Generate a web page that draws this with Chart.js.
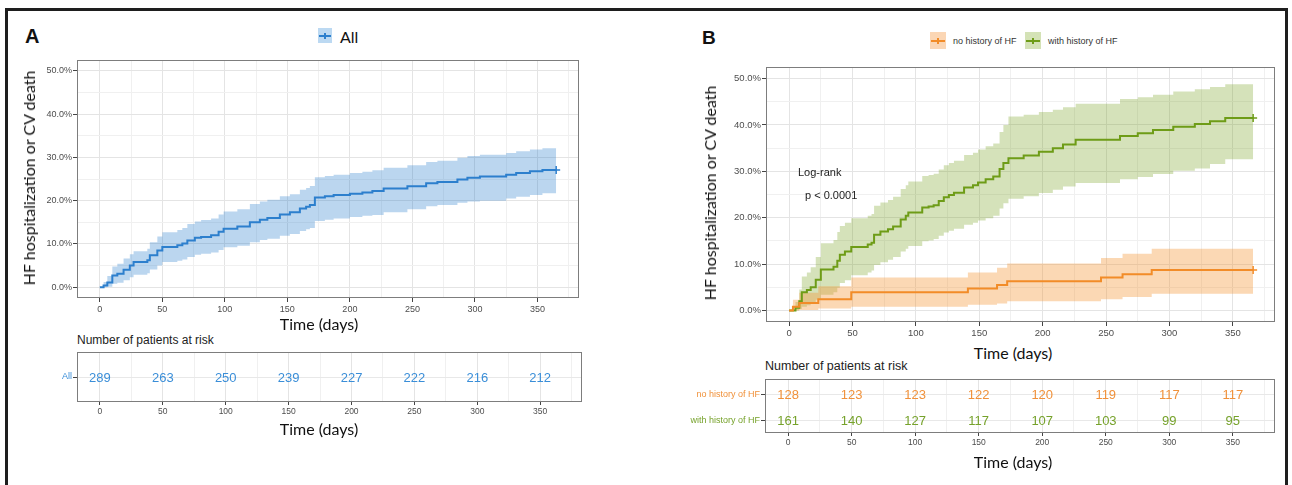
<!DOCTYPE html>
<html>
<head>
<meta charset="utf-8">
<script src="https://cdn.jsdelivr.net/npm/chart.js@4.4.1/dist/chart.umd.min.js"></script>
<style>
body{margin:0;background:#fff;width:1292px;height:485px;overflow:hidden;position:relative;font-family:"Liberation Sans",Arial,sans-serif;color:#222}
.frame{position:absolute;left:5px;top:8px;width:1277px;height:520px;border:3px solid #1e1e1e}
.box{position:absolute}
.t{position:absolute;white-space:nowrap;line-height:1;transform:translate(-50%,-50%);z-index:2}
.l{position:absolute;white-space:nowrap;line-height:1;transform:translateY(-50%);z-index:2}
.ttl{font-family:Lato,"Open Sans",sans-serif;font-size:16px;color:#111}
.yt{transform:translate(-50%,-50%) rotate(-90deg)}
.letter{font-weight:bold;font-size:20px;color:#111}
.key{position:absolute}
.key i{position:absolute;left:1px;right:1px;top:50%;height:2px;margin-top:-1px}
.key b{position:absolute;left:50%;width:1.5px;margin-left:-.75px;top:50%;height:6px;margin-top:-3px}
</style>
</head>
<body>
<div class="frame"></div>

<div class="box" style="left:27px;top:60px;width:552px;height:258px"><canvas id="plotA"></canvas></div>
<div class="box" style="left:47px;top:352px;width:535px;height:70px"><canvas id="riskA"></canvas></div>
<div class="box" style="left:716px;top:67px;width:559px;height:275px"><canvas id="plotB"></canvas></div>
<div class="box" style="left:655px;top:379px;width:620px;height:74px"><canvas id="riskB"></canvas></div>

<div class="l letter" style="left:25px;top:36px">A</div>
<div class="l letter" style="left:702px;top:37px;font-size:19px">B</div>

<div class="key" style="left:318px;top:28px;width:14px;height:15px;background:#bcd9f2"><i style="background:#2c7fcd"></i><b style="background:#2c7fcd"></b></div>
<div class="l ttl" style="left:340px;top:37px">All</div>

<div class="key" style="left:930px;top:32px;width:16px;height:17px;background:#fbd6b4"><i style="background:#f28c28"></i><b style="background:#f28c28"></b></div>
<div class="l" style="left:953px;top:41px;font-size:9px;color:#333">no history of HF</div>
<div class="key" style="left:1025px;top:32px;width:16px;height:17px;background:#d4e2b6"><i style="background:#6e9c17"></i><b style="background:#6e9c17"></b></div>
<div class="l" style="left:1048px;top:41px;font-size:9px;color:#333">with history of HF</div>

<div class="t ttl yt" style="left:29px;top:178px">HF hospitalization or CV death</div>
<div class="t ttl yt" style="left:710px;top:193px">HF hospitalization or CV death</div>
<div class="t ttl" style="left:319px;top:324px">Time (days)</div>
<div class="t ttl" style="left:319px;top:429px">Time (days)</div>
<div class="t ttl" style="left:1013px;top:353px">Time (days)</div>
<div class="t ttl" style="left:1013px;top:462px">Time (days)</div>

<div class="l" style="left:77px;top:340px;font-size:12px">Number of patients at risk</div>
<div class="l" style="left:765px;top:366px;font-size:12.5px">Number of patients at risk</div>

<div class="l" style="left:798px;top:172px;font-size:11px">Log-rank</div>
<div class="l" style="left:805px;top:195px;font-size:11px">p &lt; 0.0001</div>

<script>
// axes
const xMajor=[0,50,100,150,200,250,300,350];
const xMinor=[25,75,125,175,225,275,325,375];
const yMajor=[0,10,20,30,40,50];
const yMinor=[5,15,25,35,45];

// panel A: all patients (cumulative incidence %, step times in days)
const timesA=[0,3,6,10,14,19,24,27,38,40,46,50,62,66,70,76,81,89,95,99,110,120,128,134,144,152,160,165,168,172,180,187,200,210,218,227,246,261,270,286,294,304,325,333,344,354,365];
const estA=[0,0.4,1.1,2.7,3.1,4.0,5.0,5.8,6.2,7.4,8.5,9.3,9.7,10.1,10.8,11.4,11.6,12.0,12.8,13.5,14.0,15.0,15.6,16.0,16.8,17.3,18.2,18.6,19.0,20.7,21.0,21.3,21.6,21.9,22.2,22.8,23.3,24.0,24.3,24.9,25.3,25.6,26.0,26.4,26.8,27.1,27.1];
const lowA=[0,0,0.1,0.8,1.0,1.6,2.3,2.9,3.2,4.1,5.0,5.8,6.1,6.4,7.0,7.5,7.7,8.0,8.6,9.2,9.6,10.4,10.9,11.2,11.9,12.3,13.0,13.4,13.7,15.3,15.6,15.9,16.2,16.5,16.7,17.3,18.0,18.7,19.0,19.5,19.8,20.0,20.5,20.9,21.3,21.7,21.7];
const upA=[0,1.2,2.6,4.8,5.4,6.6,7.6,8.3,8.9,10.4,11.7,12.7,13.2,13.7,14.6,15.2,15.5,15.9,16.8,17.5,18.0,19.2,19.8,20.2,21.0,21.5,22.5,22.9,23.4,25.4,25.7,26.0,26.4,26.7,27.0,27.6,28.2,28.9,29.2,29.9,30.3,30.6,31.0,31.4,31.8,32.1,32.1];

// panel B: no history of HF
const timesNo=[0,3,8,23,49,141,164,172,246,263,286,366];
const estNo=[0,0.8,1.6,2.4,3.9,4.7,5.5,6.3,7.1,7.8,8.7,8.7];
const lowNo=[0,0,0.1,0.4,0.8,1.2,1.5,2.0,2.4,2.9,3.6,3.6];
const upNo=[0,2.3,3.8,5.2,7.1,8.2,9.2,10.1,11.3,12.2,13.3,13.3];

// panel B: with history of HF
const timesHF=[0,5,8,10,14,17,21,25,35,38,40,44,49,62,65,67,72,78,82,88,92,94,105,110,114,118,122,126,130,138,145,149,155,161,166,169,173,185,197,208,216,226,261,275,287,303,320,332,344,366];
const estHF=[0,0.6,2.0,3.9,4.4,5.0,6.6,8.8,9.4,10.7,12.0,12.7,13.7,14.2,14.6,16.3,17.0,17.5,18.1,19.6,20.4,21.1,22.2,22.4,22.7,23.6,24.4,24.9,25.4,26.5,27.0,27.6,28.3,28.9,30.5,31.8,32.8,33.4,34.2,35.0,35.8,36.8,37.6,38.2,38.9,39.6,40.2,40.8,41.5,41.5];
const lowHF=[0,0,0.3,0.8,1.1,1.5,2.3,3.4,3.9,4.9,5.9,6.5,7.6,8.2,8.6,9.8,10.4,10.9,11.5,12.7,13.3,13.9,14.9,15.1,15.4,16.1,16.8,17.2,17.6,18.5,18.9,19.4,19.9,20.4,22.0,23.1,24.1,24.6,25.3,26.0,26.7,27.5,28.3,28.8,29.4,30.1,30.6,31.6,32.6,32.6];
const upHF=[0,1.8,4.5,7.3,8.2,9.3,11.5,14.5,15.2,16.9,18.2,18.9,19.9,20.4,20.8,22.6,23.3,23.8,24.5,26.2,27.0,27.8,29.0,29.2,29.5,30.4,31.3,31.8,32.3,33.5,34.0,34.7,35.4,36.0,38.5,40.0,41.8,42.2,42.8,43.3,43.8,44.6,45.6,46.0,46.5,47.2,47.7,48.2,48.8,48.8];

// numbers at risk
const riskTimes=[0,50,100,150,200,250,300,350];
const riskAll=[289,263,250,239,227,222,216,212];
const riskNo=[128,123,123,122,120,119,117,117];
const riskHF=[161,140,127,117,107,103,99,95];
const rowsA=["All"];
const rowsB=["no history of HF","with history of HF"];

const FONT='"Liberation Sans", Arial, sans-serif';
Chart.defaults.font.family=FONT;
Chart.defaults.color='#4d4d4d';

const pts=(ts,vs)=>ts.map((t,i)=>({x:t,y:vs[i]}));
const isMajorX=v=>xMajor.includes(v);

// full grey box round the panel, like ggplot
const panelBorder={id:'panelBorder',afterDraw(c){
  const {left,top,right,bottom}=c.chartArea, x=c.ctx;
  x.save();x.strokeStyle='#7d7d7d';x.lineWidth=1;
  x.strokeRect(left+.5,top+.5,right-left-1,bottom-top-1);x.restore();
}};

// numbers at risk written at the point positions
const riskText={id:'riskText',afterDatasetsDraw(c){
  const x=c.ctx;
  c.data.datasets.forEach((d,i)=>{
    if(!d.counts) return;
    x.save();x.fillStyle=d.textColor;x.font='13px '+FONT;
    x.textAlign='center';x.textBaseline='middle';
    c.getDatasetMeta(i).data.forEach((p,j)=>x.fillText(String(d.counts[j]),p.x,p.y+1));
    x.restore();
  });
}};

function xScale(size,tickLen){
  return {
    type:'linear',min:-18.25,max:383.25,
    afterBuildTicks:s=>{s.ticks=[...xMajor,...xMinor].sort((a,b)=>a-b).map(v=>({value:v}));},
    afterFit:s=>{s.height=20;s.paddingLeft=0;s.paddingRight=0;},
    border:{display:false},
    grid:{color:c=>isMajorX(c.tick.value)?'#e4e4e4':'#f0f0f0',lineWidth:1,tickLength:tickLen,
      tickColor:c=>isMajorX(c.tick.value)?'#444':'rgba(0,0,0,0)'},
    ticks:{autoSkip:false,maxRotation:0,padding:2,font:{size:size},color:'#4d4d4d',
      callback:v=>isMajorX(v)?String(v):''}
  };
}

function survChart(id,curves,tickSize,yw){
  const ds=[];
  curves.forEach(cv=>{
    ds.push({data:pts(cv.t,cv.hi),stepped:true,borderWidth:0,pointRadius:0,fill:'+1',backgroundColor:cv.band,order:3});
    ds.push({data:pts(cv.t,cv.lo),stepped:true,borderWidth:0,pointRadius:0,fill:false,order:3});
  });
  curves.forEach(cv=>{
    ds.push({data:pts(cv.t,cv.est),stepped:true,borderColor:cv.color,borderWidth:2,pointRadius:0,fill:false,order:1});
    const n=cv.t.length-1;
    ds.push({data:[{x:cv.t[n],y:cv.est[n]}],showLine:false,pointStyle:'cross',pointRadius:4,pointBorderWidth:1.5,
      pointBorderColor:cv.color,borderColor:cv.color,order:0});
  });
  return new Chart(document.getElementById(id),{
    type:'line',
    data:{datasets:ds},
    options:{
      responsive:true,maintainAspectRatio:false,animation:false,events:[],
      layout:{padding:0,autoPadding:false},
      plugins:{legend:{display:false},tooltip:{enabled:false}},
      scales:{
        x:xScale(tickSize,4),
        y:{type:'linear',min:-2.5,max:52.5,
          afterBuildTicks:s=>{s.ticks=[...yMajor,...yMinor].sort((a,b)=>a-b).map(v=>({value:v}));},
          afterFit:s=>{s.width=yw;s.paddingTop=0;s.paddingBottom=0;},
          border:{display:false},
          grid:{color:c=>yMajor.includes(c.tick.value)?'#e4e4e4':'#f0f0f0',tickLength:4,
            tickColor:c=>yMajor.includes(c.tick.value)?'#444':'rgba(0,0,0,0)'},
          ticks:{padding:1,font:{size:tickSize},color:'#4d4d4d',
            callback:v=>yMajor.includes(v)?v.toFixed(1)+'%':''}}
      }
    },
    plugins:[panelBorder]
  });
}

function riskChart(id,rows,series,colors,yMin,yMax,yw){
  const ds=series.map((s,i)=>({
    data:riskTimes.map(t=>({x:t,y:i+1})),counts:s,textColor:colors[i],
    showLine:false,pointRadius:0
  }));
  return new Chart(document.getElementById(id),{
    type:'scatter',
    data:{datasets:ds},
    options:{
      responsive:true,maintainAspectRatio:false,animation:false,events:[],
      layout:{padding:0,autoPadding:false},
      plugins:{legend:{display:false},tooltip:{enabled:false}},
      scales:{
        x:xScale(8.5,3),
        y:{type:'linear',min:yMin,max:yMax,reverse:true,
          afterBuildTicks:s=>{s.ticks=rows.map((r,i)=>({value:i+1}));},
          afterFit:s=>{s.width=yw;s.paddingTop=0;s.paddingBottom=0;},
          border:{display:false},
          grid:{color:'#e8e8e8',tickLength:4,tickColor:'#444'},
          ticks:{padding:1,font:{size:9},color:c=>colors[c.index],
            callback:v=>rows[v-1]}}
      }
    },
    plugins:[panelBorder,riskText]
  });
}

survChart('plotA',[{t:timesA,est:estA,lo:lowA,hi:upA,color:'#2c7fcd',band:'rgba(44,127,205,0.32)'}],9,50);
survChart('plotB',[
  {t:timesNo,est:estNo,lo:lowNo,hi:upNo,color:'#f28c28',band:'rgba(245,146,47,0.36)'},
  {t:timesHF,est:estHF,lo:lowHF,hi:upHF,color:'#6e9c17',band:'rgba(115,160,28,0.3)'}
],9.5,50);
riskChart('riskA',rowsA,[riskAll],['#3a8ed8'],0,2,30);
riskChart('riskB',rowsB,[riskNo,riskHF],['#f0913a','#76a22b'],0.42,2.5,110);
</script>
</body>
</html>
